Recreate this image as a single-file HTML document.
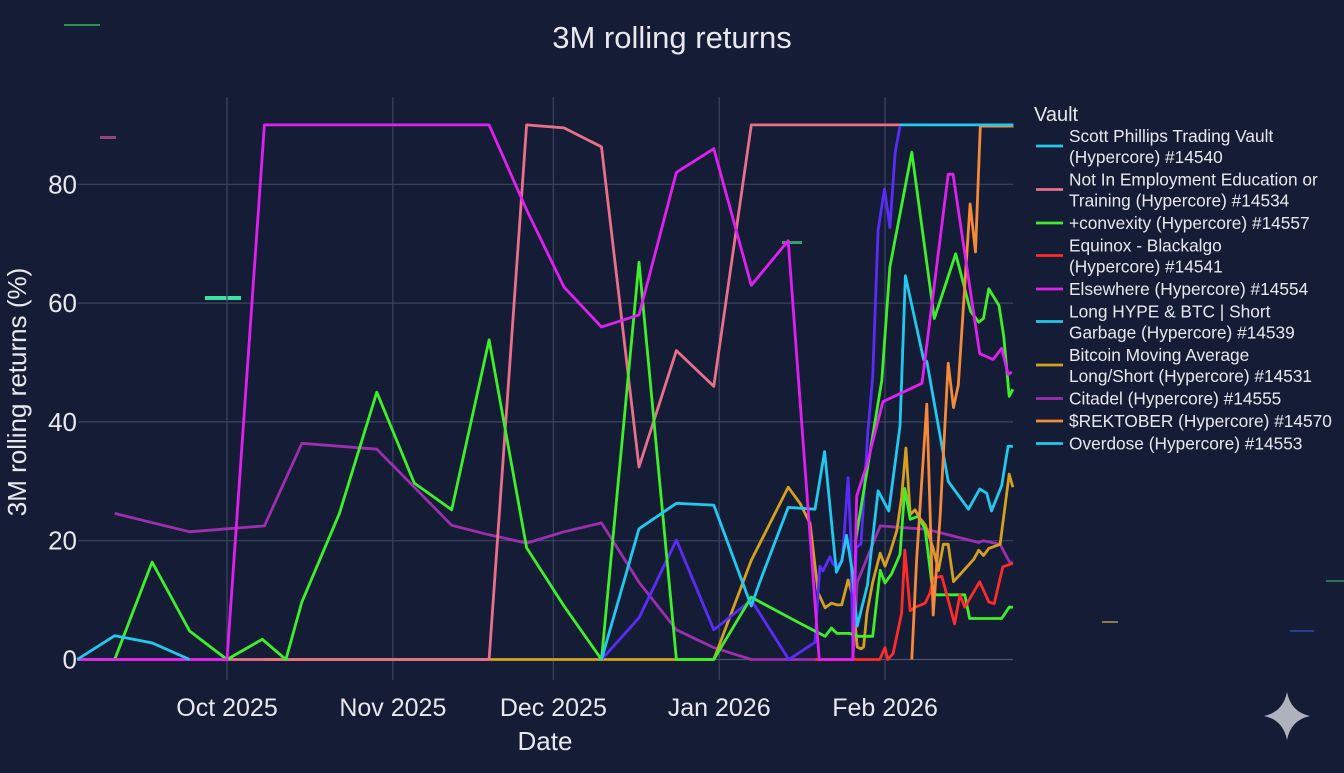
<!DOCTYPE html>
<html><head><meta charset="utf-8"><style>
html,body{margin:0;padding:0;background:#151d36;}
svg text{font-family:"Liberation Sans","DejaVu Sans",sans-serif;}
</style></head><body>
<svg id="chart" width="1344" height="768" viewBox="0 0 1344 768" xmlns="http://www.w3.org/2000/svg">
<rect x="0" y="0" width="1344" height="768" fill="#151d36"/>
<g>
<rect x="64" y="24" width="36" height="2" fill="#2fb050" opacity="0.8"/>
<rect x="205" y="296" width="36" height="4" fill="#3ee0a0"/>
<rect x="100" y="136" width="16" height="3" fill="#b0508a" opacity="0.8"/>
<rect x="782" y="241" width="20" height="3" fill="#3ec080" opacity="0.8"/>
<rect x="1102" y="621" width="16" height="2" fill="#c0a060" opacity="0.7"/>
<rect x="1290" y="630" width="24" height="2" fill="#3050b0" opacity="0.7"/>
<rect x="1326" y="580" width="18" height="2" fill="#30a060" opacity="0.7"/>
</g>
<text x="672" y="48" text-anchor="middle" font-size="31" fill="#e8e8ee">3M rolling returns</text>
<g id="grid"></g>
<g id="yticks"></g>
<g id="xticks"></g>
<text x="545" y="750" text-anchor="middle" font-size="26" fill="#e8e8ee">Date</text>
<text transform="translate(26,392) rotate(-90)" text-anchor="middle" font-size="26" fill="#e8e8ee">3M rolling returns (%)</text>
<g id="series"></g>
<g id="legend">
<text x="1034" y="121" font-size="20" fill="#e8e8ee">Vault</text>
</g>
<path d="M1287 692 Q1291 712 1310 716 Q1291 720 1287 740 Q1283 720 1264 716 Q1283 712 1287 692 Z" fill="#c8ccd4" opacity="0.85"/>
</svg>
<script>
const yTicks=[0,20,40,60,80];
const xTickLabels=["Oct 2025","Nov 2025","Dec 2025","Jan 2026","Feb 2026"];
const xTickDays=[0,31,61,92,123];

const overdoseDays=[-28,-21,-14,-7];
const overdoseVals=[0,4,2.8,0];
const scottDays=[125.8,147];
const scottVals=[90,90];
const neetDays=[-28,49,56,63,70,77,84,91,98,125.8];
const neetVals=[0,0,90,89.5,86.3,32.4,52,46,90,90];
const convexDays=[-28,-21,-14,-7,0,6.6,11,14,21,28,35,42,49,56,63,70,77,84,91,98,99.6,107.1,111.8,113,114,116.4,118,120.7,122.1,123,124.2,125.8,126.7,127.7,129.2,130.5,132,137.9,138.8,144.8,146.2,146.9];
const convexVals=[0,0,16.4,4.8,0,3.4,0,9.7,24.6,45,29.7,25.2,53.8,18.8,9,0,66.9,0,0,10.5,9.7,6.1,3.9,5.3,4.4,4.4,3.9,3.9,15,12.9,14.4,17.7,28.8,23.6,24.1,21.9,10.9,10.9,6.9,6.9,8.8,8.8];
const equinoxDays=[110,122,123,123.5,124.5,126.1,126.7,127.7,128.6,129.5,130.5,131.4,132,133.6,136,137,137.9,140.7,142.4,143.4,145,146.9];
const equinoxVals=[0,0,2,0,1,7.8,18.4,8.2,8.8,9.1,9.5,11.2,13.7,14,6,10.9,8.8,13.1,9.7,9.4,15.6,16.2];
const elsewhereDays=[-28,0,7,49,56,63,70,77,84,91,98,104.9,110.7,117,117.7,119.6,122.6,129.9,134.8,135.7,140.7,143.2,144.8,146,146.7];
const elsewhereVals=[0,0,90,90,75.7,62.7,56,58,82,86,63,70.5,0,0,27.5,32.8,43.4,46.5,81.7,81.7,51.5,50.5,52.4,48,48.4];
const hypeDays=[70,77,84,91,98,99.6,104.9,109.9,111.7,113.9,114.9,115.8,116.8,117.8,119.7,121.7,123.7,125.8,126.8,130.2,130.8,134.8,138.6,140.7,142,142.9,144.8,146,146.9];
const hypeVals=[0,22,26.3,26,9,13.1,25.6,25.3,35,14.7,16.6,20.9,15.3,5.6,12.5,28.4,25,39.3,64.6,50.5,50.2,30,25.3,28.7,28,25,29.3,35.9,35.9];
const btcDays=[7,91,98,104.9,107.1,109,110.5,111.8,113,114,114.9,116.1,117,117.8,118.5,119,119.6,120.7,122.1,123,123.9,125.2,126.1,126.9,127.7,128.6,129.5,130.5,132,133,133.9,134.8,135.8,137.7,139.6,140.5,141.4,142.4,144.5,146.2,146.9];
const btcVals=[0,0,16.7,29,26.3,22.9,11.2,8.7,9.5,9.2,9.2,13.4,10.6,2.1,1.8,2.1,7.8,13,17.9,15.7,17.9,21.7,27.3,35.6,24.4,25.2,23.8,22.7,18.7,15,19.4,19.4,13.1,15,16.9,18.4,17.5,18.7,19.4,31.2,29];
const citadelDays=[-21,-7,0,7,14,28,35,42,49,56,63,70,77,84,91,98,117,117.8,122.1,130.8,140.5,141.4,144.5,146.2,146.9];
const citadelVals=[24.6,21.5,22,22.5,36.4,35.4,29,22.6,21,19.6,21.5,23,13,5,2,0,0,13,22.5,21.9,19.7,20,19.4,16.5,16.2];
const rektDays=[128,128.9,130.8,132,133.3,134.8,135.8,136.7,138.9,139.9,140.8,147];
const rektVals=[0,16.7,43,7.5,24.3,49.9,42.4,46.2,76.7,68.6,89.8,89.8];
const extraGreenDays=[117.5,122.4,123.9,128,132.2,136.2,139,140.5,141.4,142.4,144.3,145.2,146.2,146.9];
const extraGreenVals=[20,47,66.1,85.4,57.4,68.3,58.6,56.8,57.4,62.4,59.6,54.3,44.3,45.5];
const extraVioletDays=[70,77,84,91,98,105,109.9,110.8,111.4,112.7,113.3,114,115,116.1,116.6,117,117.6,118.5,119.8,120.7,121.7,122.9,123.9,124.9,125.8];
const extraVioletVals=[0,7,20.1,5,10,0,2.9,15.7,14.9,17.3,16,15.7,16.6,30.6,20.5,0,18.8,19.5,38.4,47.6,72.3,79.2,72.7,85.4,89.8];

const legendNames=[["Scott Phillips Trading Vault","(Hypercore) #14540"],["Not In Employment Education or","Training (Hypercore) #14534"],["+convexity (Hypercore) #14557"],["Equinox - Blackalgo","(Hypercore) #14541"],["Elsewhere (Hypercore) #14554"],["Long HYPE & BTC | Short","Garbage (Hypercore) #14539"],["Bitcoin Moving Average","Long/Short (Hypercore) #14531"],["Citadel (Hypercore) #14555"],["$REKTOBER (Hypercore) #14570"],["Overdose (Hypercore) #14553"]];

const NS="http://www.w3.org/2000/svg";
function xs(d){return 227+d*5.35;}
function ys(v){return 659.5-v*5.94;}
const PL=78,PR=1013,PT=97,PB=680;

const grid=document.getElementById('grid');
yTicks.forEach(function(t){
  const l=document.createElementNS(NS,'line');
  
  
  l.setAttribute('x1',PL);l.setAttribute('x2',PR);l.setAttribute('y1',ys(t));l.setAttribute('y2',ys(t));
  l.setAttribute('stroke',t===0?'#4a546c':'#3a4560');l.setAttribute('stroke-width','1.2');
  grid.appendChild(l);
  const tx=document.createElementNS(NS,'text');
  
  
  tx.setAttribute('x',77);tx.setAttribute('y',ys(t)+9);tx.setAttribute('text-anchor','end');
  tx.setAttribute('font-size','26');tx.setAttribute('fill','#e8e8ee');tx.textContent=t;
  document.getElementById('yticks').appendChild(tx);
});
xTickDays.forEach(function(d,i){
  const l=document.createElementNS(NS,'line');
  
  
  l.setAttribute('x1',xs(d));l.setAttribute('x2',xs(d));l.setAttribute('y1',PT);l.setAttribute('y2',PB);
  l.setAttribute('stroke','#3a4560');l.setAttribute('stroke-width','1.2');
  grid.appendChild(l);
  const tx=document.createElementNS(NS,'text');
  
  
  tx.setAttribute('x',xs(d));tx.setAttribute('y',716);tx.setAttribute('text-anchor','middle');
  tx.setAttribute('font-size','25');tx.setAttribute('fill','#e8e8ee');tx.textContent=xTickLabels[i];
  document.getElementById('xticks').appendChild(tx);
});

const seriesG=document.getElementById('series');
function drawSeries(name,days,vals,color){
  const p=document.createElementNS(NS,'polyline');
  
  
  p.setAttribute('points',days.map(function(d,i){return xs(d).toFixed(1)+','+ys(vals[i]).toFixed(1);}).join(' '));
  p.setAttribute('fill','none');p.setAttribute('stroke',color);p.setAttribute('stroke-width','2.8');
  p.setAttribute('stroke-linejoin','round');
  seriesG.appendChild(p);
}
drawSeries('line-citadel',citadelDays,citadelVals,'#9b2fae');
drawSeries('line-bitcoin-ma',btcDays,btcVals,'#d4a020');
drawSeries('line-not-in-employment',neetDays,neetVals,'#e8708a');
drawSeries('line-extra-violet',extraVioletDays,extraVioletVals,'#5a2cf8');
drawSeries('line-convexity',convexDays,convexVals,'#3ef02a');
drawSeries('line-extra-green',extraGreenDays,extraGreenVals,'#3ef02a');
drawSeries('line-equinox',equinoxDays,equinoxVals,'#ff2a2a');
drawSeries('line-long-hype',hypeDays,hypeVals,'#22c8ee');
drawSeries('line-rektober',rektDays,rektVals,'#f58a3a');
drawSeries('line-elsewhere',elsewhereDays,elsewhereVals,'#e020f0');
drawSeries('line-overdose',overdoseDays,overdoseVals,'#22c8ee');
drawSeries('line-scott-phillips',scottDays,scottVals,'#22c8ee');

const legendColors=['#22c8ee','#e8708a','#3ef02a','#ff2a2a','#e020f0','#22c8ee','#d4a020','#9b2fae','#f58a3a','#22c8ee'];
const lg=document.getElementById('legend');
let yy=136;
legendNames.forEach(function(lines,i){
  const g=document.createElementNS(NS,'g');
  
  
  const l=document.createElementNS(NS,'line');
  l.setAttribute('x1',1036);l.setAttribute('x2',1063);
  const ly=lines.length>1?yy+10:yy;
  l.setAttribute('y1',ly);l.setAttribute('y2',ly);
  l.setAttribute('stroke',legendColors[i]);l.setAttribute('stroke-width','2.8');
  g.appendChild(l);
  lines.forEach(function(s,j){
    const t=document.createElementNS(NS,'text');
    t.setAttribute('x',1069);t.setAttribute('y',yy+j*21+6);
    t.setAttribute('font-size','17.3');t.setAttribute('fill','#e8e8ee');
    t.textContent=s;g.appendChild(t);
  });
  lg.appendChild(g);
  yy+=lines.length*21+1.5;
});
</script>
</body></html>
